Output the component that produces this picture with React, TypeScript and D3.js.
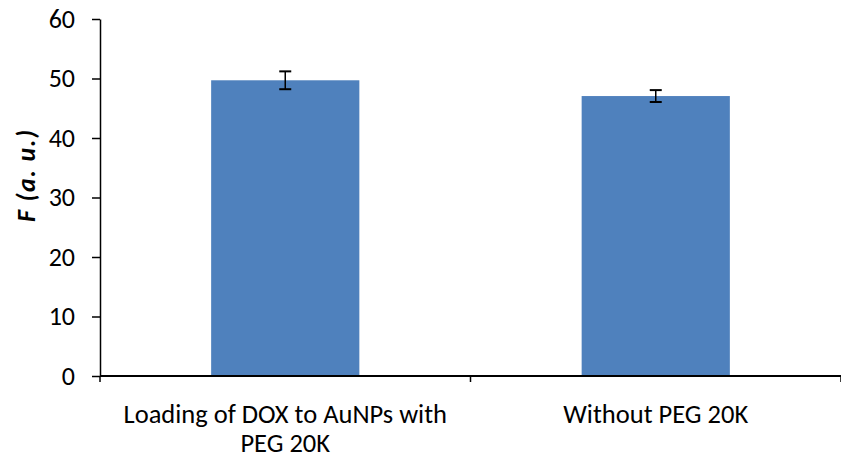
import * as d3 from "d3";
import { useEffect, useRef } from "react";

const categories = ["Loading of DOX to AuNPs with PEG 20K", "Without PEG 20K"];
const labelLines = [["Loading of DOX to AuNPs with", "PEG 20K"], ["Without PEG 20K"]];
const values = [49.7, 47.05];
const errors = [1.5, 1.0];
const yTicks = [0, 10, 20, 30, 40, 50, 60];

export default function App() {
  const ref = useRef<SVGSVGElement>(null);

  useEffect(() => {
    document.body.style.margin = "0";
    const width = 841, height = 458;
    const margin = { top: 19, right: 0, bottom: 82, left: 100 };
    const innerW = width - margin.left - margin.right;
    const innerH = height - margin.top - margin.bottom;
    const font = "Carlito, 'Open Sans', 'Liberation Sans', sans-serif";

    const svg = d3.select(ref.current);
    svg.selectAll("*").remove();
    const g = svg.append("g").attr("transform", `translate(${margin.left},${margin.top})`);

    const x = d3.scaleBand().domain(categories).range([0, innerW]).paddingInner(0).paddingOuter(0);
    const y = d3.scaleLinear().domain([0, 60]).range([innerH, 0]);
    const barW = x.bandwidth() * 0.4;

    // bars
    g.selectAll("rect.bar")
      .data(categories)
      .enter()
      .append("rect")
      .attr("class", "bar")
      .attr("x", (d) => x(d)! + (x.bandwidth() - barW) / 2)
      .attr("y", (d, i) => y(values[i]))
      .attr("width", barW)
      .attr("height", (d, i) => innerH - y(values[i]))
      .attr("fill", "#4f81bd");

    // error bars
    const eb = g.selectAll("g.err").data(categories).enter().append("g").attr("class", "err");
    const cx = (d: string) => x(d)! + x.bandwidth() / 2;
    eb.append("line")
      .attr("x1", cx).attr("x2", cx)
      .attr("y1", (d, i) => y(values[i] + errors[i]))
      .attr("y2", (d, i) => y(values[i] - errors[i]))
      .attr("stroke", "#000").attr("stroke-width", 1.5);
    [1, -1].forEach((s) => {
      eb.append("line")
        .attr("x1", (d) => cx(d) - 6).attr("x2", (d) => cx(d) + 6)
        .attr("y1", (d, i) => y(values[i] + s * errors[i]))
        .attr("y2", (d, i) => y(values[i] + s * errors[i]))
        .attr("stroke", "#000").attr("stroke-width", 2);
    });

    // y axis
    const yAxis = g.append("g")
      .call(d3.axisLeft(y).tickValues(yTicks).tickSize(8).tickSizeOuter(0).tickPadding(17));
    yAxis.select(".domain").attr("stroke", "#000").attr("stroke-width", 1.5);
    yAxis.selectAll("line").attr("stroke", "#000").attr("stroke-width", 1.5);
    yAxis.selectAll("text").attr("font-size", 26).attr("font-family", font).attr("fill", "#000");

    // x axis
    const xAxis = g.append("g").attr("transform", `translate(0,${innerH})`);
    xAxis.append("line").attr("x1", 0).attr("x2", innerW).attr("stroke", "#000").attr("stroke-width", 2);
    const bounds = [...categories.map((c) => x(c)!), innerW];
    xAxis.selectAll("line.tick")
      .data(bounds)
      .enter()
      .append("line")
      .attr("class", "tick")
      .attr("x1", (d) => d).attr("x2", (d) => d)
      .attr("y1", 0).attr("y2", 6)
      .attr("stroke", "#000").attr("stroke-width", 1.5);

    const lab = xAxis.selectAll("text.lab").data(categories).enter().append("text")
      .attr("class", "lab")
      .attr("x", cx)
      .attr("text-anchor", "middle")
      .attr("font-size", 26.5)
      .attr("font-family", font)
      .attr("fill", "#000");
    lab.each(function (d, i) {
      labelLines[i].forEach((t, j) => {
        d3.select(this).append("tspan").attr("x", cx(d)).attr("y", 47 + j * 29).text(t);
      });
    });

    // y label
    svg.append("text")
      .attr("transform", `translate(26,${176}) rotate(-90)`)
      .attr("text-anchor", "middle")
      .attr("dominant-baseline", "central")
      .attr("font-size", 26)
      .attr("font-weight", "bold")
      .attr("font-style", "italic")
      .attr("font-family", font)
      .attr("textLength", 92)
      .attr("lengthAdjust", "spacing")
      .text("F (a. u.)");
  }, []);

  return <svg ref={ref} width={841} height={458} style={{ display: "block" }}></svg>;
}
